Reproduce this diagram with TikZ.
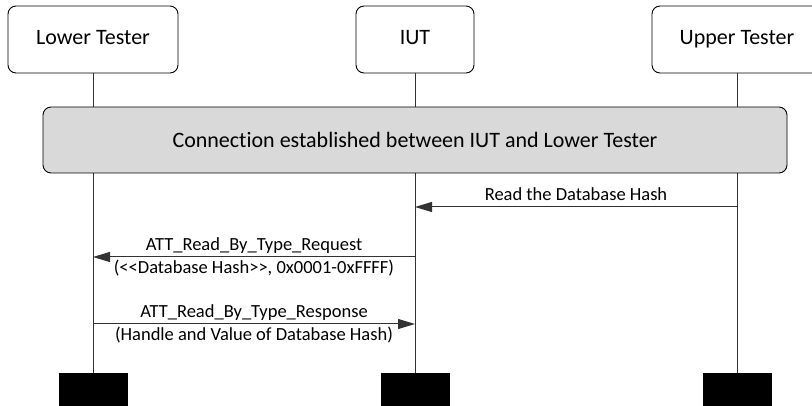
\documentclass[tikz,border=0pt]{standalone}
\usepackage{fontspec}
\setmainfont{Carlito}[Ligatures=NoCommon]
\usepackage{tikz}
\usetikzlibrary{arrows.meta,positioning}
\definecolor{boxgray}{RGB}{217,217,217}
\definecolor{linegray}{RGB}{50,50,50}

\begin{document}
\begin{tikzpicture}[x=1pt, y=-1pt,
  actor/.style={draw=black, fill=white, rounded corners=8pt, line width=0.9pt, minimum height=67pt, text height=15pt, text depth=4pt, font=\fontsize{22}{26}\selectfont},
  lifeline/.style={draw=linegray, line width=1pt},
  endbar/.style={fill=black, minimum width=69pt, minimum height=40pt, inner sep=0pt},
  phase/.style={draw=black, fill=boxgray, rounded corners=8pt, line width=0.9pt, minimum width=744pt, minimum height=66pt, font=\fontsize{22}{26}\selectfont},
  msg/.style={draw=linegray, line width=1pt, -{Triangle[length=17pt, width=10pt]}},
  msglabel/.style={font=\fontsize{18.5}{21}\selectfont, inner sep=1.5pt, text height=12.5pt, text depth=4pt}
]
\clip (0,0) rectangle (812,406);
% Actors
\node[actor, minimum width=170pt] (lt)  at (93,39.5)  {Lower Tester};
\node[actor, minimum width=118pt] (iut) at (415,39.5) {IUT};
\node[actor, minimum width=170pt] (ut)  at (737,39.5) {Upper Tester};
% End bars
\foreach \n/\x in {ltend/93, iutend/415, utend/737} {
  \node[endbar] (\n) at (\x,393) {};
}
% Lifelines
\draw[lifeline] (lt.south)  -- (ltend.north);
\draw[lifeline] (iut.south) -- (iutend.north);
\draw[lifeline] (ut.south)  -- (utend.north);
% Connection
\node[phase] (conn) at (415,140) {Connection established between IUT and Lower Tester};
% Messages
\coordinate (ut1)  at (737,207);
\coordinate (iut1) at (415,207);
\coordinate (iut2) at (415,257);
\coordinate (lt2)  at (93,257);
\coordinate (lt3)  at (93,324);
\coordinate (iut3) at (415,324);
\draw[msg] (ut1) -- node[msglabel, above] {Read the Database Hash} (iut1);
\draw[msg] (iut2) -- node[msglabel, above] {ATT\_Read\_By\_Type\_Request}
  node[msglabel, below=2pt] {(<{}<Database Hash>{}>, 0x0001-0xFFFF)} (lt2);
\draw[msg] (lt3) -- node[msglabel, above] {ATT\_Read\_By\_Type\_Response}
  node[msglabel, below=2pt] {(Handle and Value of Database Hash)} (iut3);
\end{tikzpicture}
\end{document}
